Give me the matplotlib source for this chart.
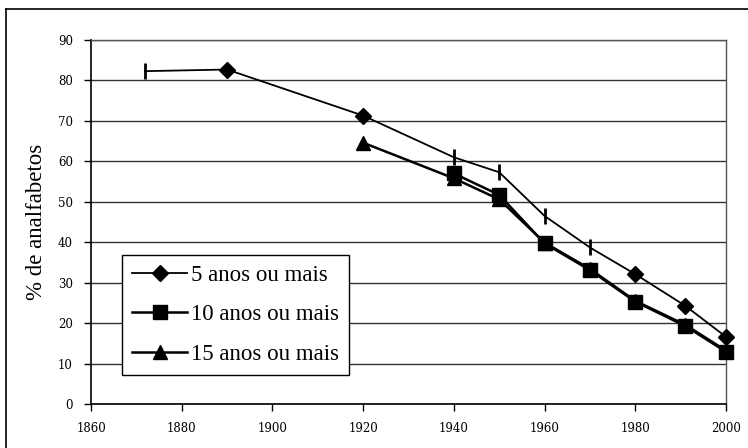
import matplotlib
matplotlib.use("Agg")
import matplotlib.pyplot as plt
from matplotlib.lines import Line2D
import numpy as np

plt.rcParams['font.family'] = ['Liberation Serif', 'DejaVu Serif']

years5 = [1872, 1890, 1920, 1940, 1950, 1960, 1970, 1980, 1991, 2000]
vals5 = [82.3, 82.7, 71.3, 61.0, 57.3, 46.5, 38.7, 32.1, 24.3, 16.6]
years10 = [1940, 1950, 1960, 1970, 1980, 1991, 2000]
vals10 = [57.0, 51.7, 39.7, 33.1, 25.3, 19.3, 12.9]
years15 = [1920, 1940, 1950, 1960, 1970, 1980, 1991, 2000]
vals15 = [64.6, 55.8, 50.6, 39.9, 33.4, 25.5, 19.6, 13.2]
labels = ["5 anos ou mais", "10 anos ou mais", "15 anos ou mais"]
xticks = [1860, 1880, 1900, 1920, 1940, 1960, 1980, 2000]
yticks = [0, 10, 20, 30, 40, 50, 60, 70, 80, 90]
ylabel = "% de analfabetos"

fig = plt.figure(figsize=(7.48, 4.48), dpi=100)
ax = fig.add_axes([91/748, 44/448, 635/748, 364/448])

ax.set_xlim(1860, 2000)
ax.set_ylim(0, 90)
ax.set_xticks(xticks)
ax.set_yticks(yticks)
ax.yaxis.grid(True, color='#333333', linewidth=1.0)
ax.set_axisbelow(True)
for s in ['left', 'bottom']:
    ax.spines[s].set_color('black')
    ax.spines[s].set_linewidth(1.2)
for s in ['right', 'top']:
    ax.spines[s].set_color('#555555')
    ax.spines[s].set_linewidth(1.0)
ax.tick_params(axis='both', direction='out', length=5, width=1,
               labelsize=8.5, labelfontfamily='DejaVu Serif')
ax.tick_params(axis='x', pad=8)
ax.tick_params(axis='y', pad=8)

# 5 anos: line with mixed markers
y5 = np.array(years5); v5 = np.array(vals5)
ax.plot(y5, v5, color='black', lw=1.3, zorder=3, clip_on=False)
diamond = np.isin(y5, [1890, 1920, 1980, 1991, 2000])
ax.plot(y5[diamond], v5[diamond], ls='none', marker='D', ms=8, color='black', zorder=5, clip_on=False)
ax.plot(y5[~diamond], v5[~diamond], ls='none', marker='|', ms=11, mew=2, color='black', zorder=5, clip_on=False)

ax.plot(years15, vals15, color='black', lw=1.8, marker='^', ms=10, zorder=4, clip_on=False)
ax.plot(years10, vals10, color='black', lw=1.8, marker='s', ms=10, zorder=4, clip_on=False)

ax.set_ylabel(ylabel, fontsize=16.5, labelpad=8)

handles = [
    Line2D([], [], color='black', lw=1.3, marker='D', ms=8),
    Line2D([], [], color='black', lw=1.8, marker='s', ms=10),
    Line2D([], [], color='black', lw=1.8, marker='^', ms=10),
]
leg = ax.legend(handles, labels, loc='lower left', bbox_to_anchor=(31/635, 29/364),
                borderaxespad=0, fancybox=False, fontsize=16.5, handlelength=2.4,
                labelspacing=0.8, handletextpad=0.15, borderpad=0.45, framealpha=1)
leg.get_frame().set_edgecolor('black')
leg.get_frame().set_linewidth(1.0)

# outer chart frame (left and top edges visible)
fig.add_artist(Line2D([6/748, 6/748], [0, 1 - 9/448], transform=fig.transFigure, color='black', lw=1.2))
fig.add_artist(Line2D([6/748, 1], [1 - 9/448, 1 - 9/448], transform=fig.transFigure, color='black', lw=1.2))

fig.savefig("out.png", dpi=100)
